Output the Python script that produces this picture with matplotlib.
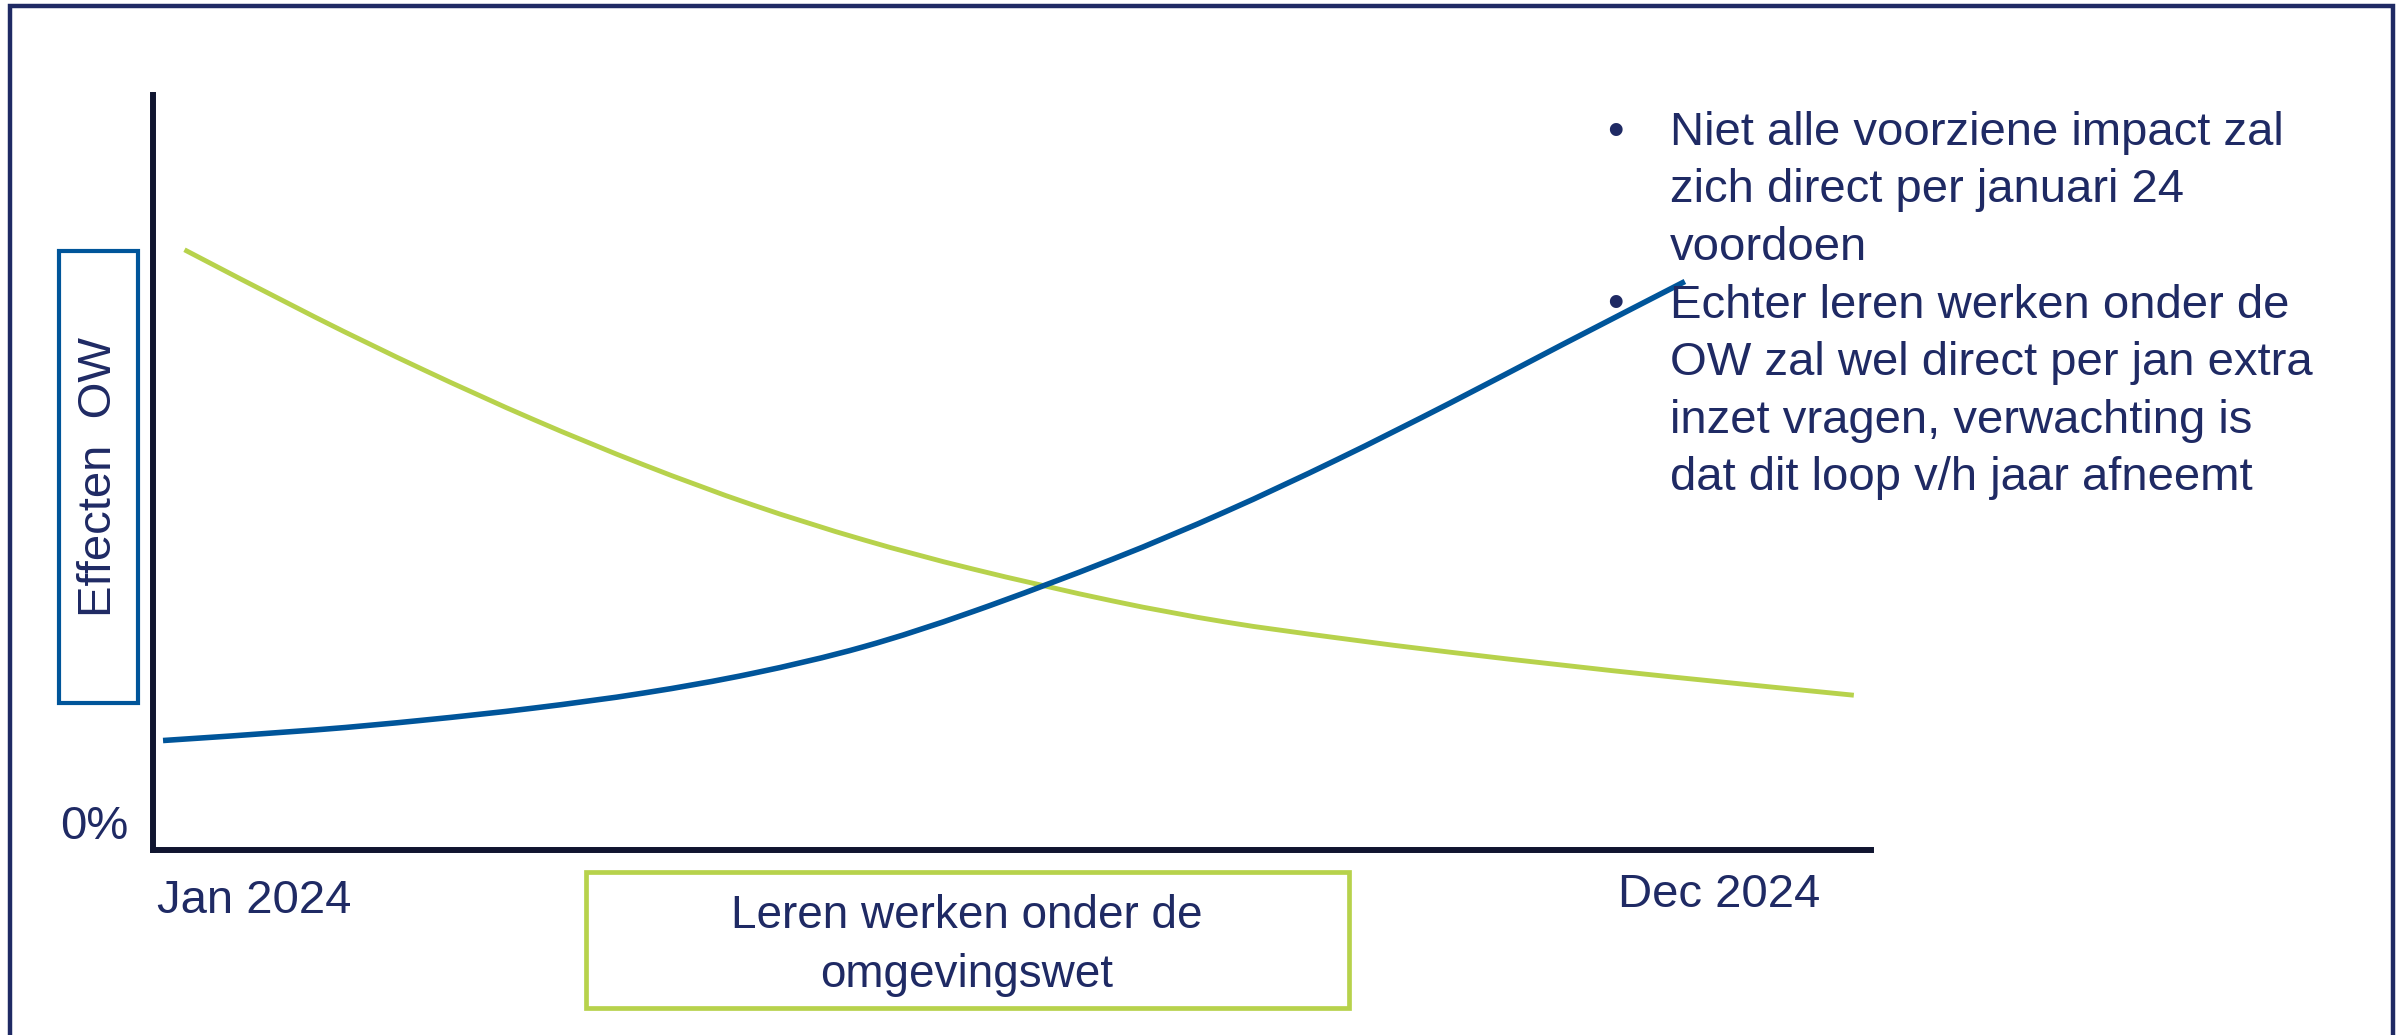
import matplotlib
matplotlib.use("Agg")
import matplotlib.pyplot as plt
from matplotlib.patches import Rectangle, PathPatch
from matplotlib.path import Path

plt.rcParams['font.family'] = ['Liberation Sans', 'DejaVu Sans']

# ---- data (x in months since Jan 2024, y in % of axis) ----
months_green = [0.22, 1.13, 1.89, 2.66, 3.43, 4.19, 4.96, 5.73, 6.70, 7.49, 8.27, 9.06, 9.84, 10.62, 11.88]
effect_green = [79.5, 70.6, 63.6, 57.0, 51.0, 45.7, 41.1, 37.2, 33.0, 30.2, 28.1, 26.2, 24.5, 22.9, 20.5]

months_blue = [0.07, 1.13, 1.89, 2.66, 3.43, 4.19, 4.96, 5.73, 6.70, 7.49, 8.27, 9.06, 9.84, 10.70]
effect_blue = [14.5, 15.9, 17.2, 18.8, 20.8, 23.4, 26.9, 31.6, 38.5, 44.8, 51.7, 59.2, 66.9, 75.3]

x_labels = ['Jan 2024', 'Dec 2024']
y_label = 'Effecten  OW'
zero_label = '0%'
box_label = ['Leren werken onder de', 'omgevingswet']
bullets = [
    ['Niet alle voorziene impact zal', 'zich direct per januari 24', 'voordoen'],
    ['Echter leren werken onder de', 'OW zal wel direct per jan extra',
     'inzet vragen, verwachting is', 'dat dit loop v/h jaar afneemt'],
]

NAVY = '#1F2A64'
AXIS = '#101530'
GREEN = '#B7D24C'
BLUE = '#00559A'

W, H = 2400, 1035
fig = plt.figure(figsize=(W / 100, H / 100), dpi=100)


def fx(px):
    return px / W


def fy(py):
    return 1 - py / H


def smooth_path(xs, ys):
    # smooth curve through the read points (Catmull-Rom as cubic Bezier segments)
    pts = list(zip(xs, ys))
    verts = [pts[0]]
    codes = [Path.MOVETO]
    for i in range(len(pts) - 1):
        p0 = pts[i - 1] if i > 0 else pts[i]
        p1 = pts[i]
        p2 = pts[i + 1]
        p3 = pts[i + 2] if i + 2 < len(pts) else pts[i + 1]
        c1 = (p1[0] + (p2[0] - p0[0]) / 6, p1[1] + (p2[1] - p0[1]) / 6)
        c2 = (p2[0] - (p3[0] - p1[0]) / 6, p2[1] - (p3[1] - p1[1]) / 6)
        verts += [c1, c2, p2]
        codes += [Path.CURVE4] * 3
    return Path(verts, codes)


# outer frame (bottom edge runs off the image)
fig.add_artist(Rectangle((fx(10), fy(1060)), fx(2393) - fx(10), fy(6) - fy(1060),
                         transform=fig.transFigure, fill=False,
                         edgecolor=NAVY, linewidth=3.2))

# ---- main axes ----
ax = fig.add_axes([fx(153), fy(850), fx(1871) - fx(153), fy(95) - fy(850)])
for side in ['top', 'right']:
    ax.spines[side].set_visible(False)
for side in ['left', 'bottom']:
    ax.spines[side].set_linewidth(4.3)
    ax.spines[side].set_color(AXIS)
    ax.spines[side].set_capstyle('projecting')
ax.set_xticks([])
ax.set_yticks([])
ax.patch.set_alpha(0)

ax.add_patch(PathPatch(smooth_path(months_green, effect_green), fill=False,
                       edgecolor=GREEN, linewidth=3.5, capstyle='butt',
                       clip_on=False))
ax.add_patch(PathPatch(smooth_path(months_blue, effect_blue), fill=False,
                       edgecolor=BLUE, linewidth=4.0, capstyle='butt',
                       clip_on=False))
ax.set_xlim(0, 12)
ax.set_ylim(0, 100)

# ---- axis annotations ----
fig.text(fx(157), fy(913), x_labels[0], fontsize=34, color=NAVY,
         ha='left', va='baseline')
fig.text(fx(1618), fy(907), x_labels[1], fontsize=34, color=NAVY,
         ha='left', va='baseline')
fig.text(fx(60), fy(839), zero_label, fontsize=34, color=NAVY,
         ha='left', va='baseline')

# y-label box
fig.add_artist(Rectangle((fx(59), fy(703)), fx(138) - fx(59), fy(251) - fy(703),
                         transform=fig.transFigure, fill=False,
                         edgecolor=BLUE, linewidth=3.0))
fig.text(fx(99), fy(477), y_label, fontsize=34, color=NAVY, rotation=90,
         ha='center', va='center')

# x-label box
fig.add_artist(Rectangle((fx(586), fy(1008)), fx(1349) - fx(586), fy(872) - fy(1008),
                         transform=fig.transFigure, fill=False,
                         edgecolor=GREEN, linewidth=3.4))
fig.text(fx(967), fy(928), box_label[0], fontsize=33, color=NAVY,
         ha='center', va='baseline')
fig.text(fx(967), fy(987), box_label[1], fontsize=33, color=NAVY,
         ha='center', va='baseline')

# bullet text
baseline = 145
for item in bullets:
    fig.text(fx(1615), fy(baseline), '\u2022', fontsize=34, color=NAVY,
             ha='center', va='baseline')
    for line in item:
        fig.text(fx(1670), fy(baseline), line, fontsize=34, color=NAVY,
                 ha='left', va='baseline')
        baseline += 57.5

fig.savefig('out.png', dpi=100, facecolor='white')
